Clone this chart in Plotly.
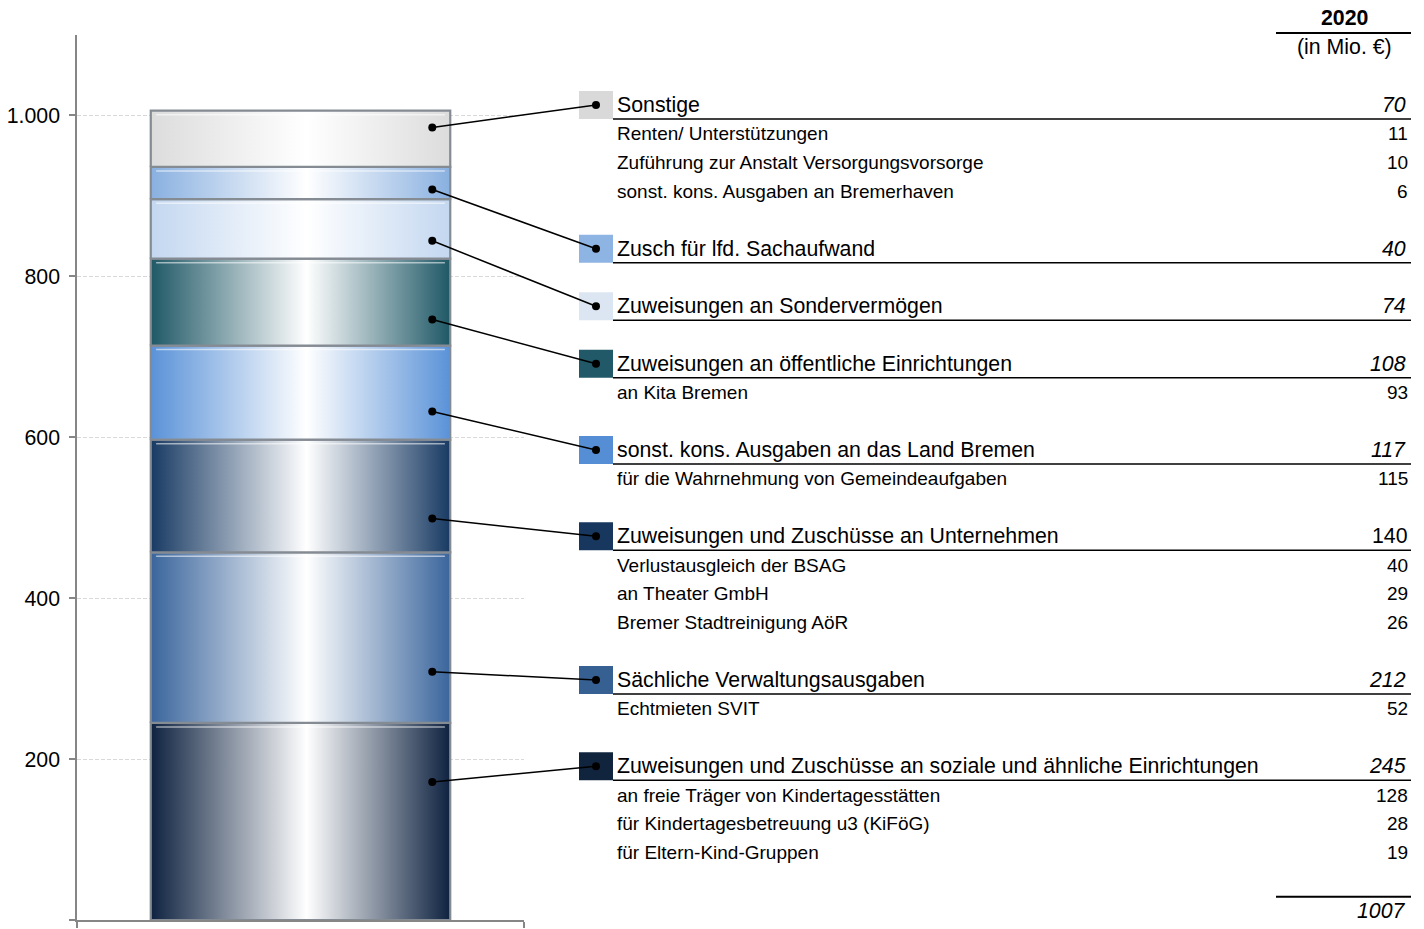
import plotly.graph_objects as go

# ---------------- data ----------------
categories = [
    "Zuweisungen und Zuschüsse an soziale und ähnliche Einrichtungen",
    "Sächliche Verwaltungsausgaben",
    "Zuweisungen und Zuschüsse an Unternehmen",
    "sonst. kons. Ausgaben an das Land Bremen",
    "Zuweisungen an öffentliche Einrichtungen",
    "Zuweisungen an Sondervermögen",
    "Zusch für lfd. Sachaufwand",
    "Sonstige",
]
values = [245, 212, 140, 117, 108, 74, 40, 70]

sub_labels = [
    ["an freie Träger von Kindertagesstätten", "für Kindertagesbetreuung u3 (KiFöG)", "für Eltern-Kind-Gruppen"],
    ["Echtmieten SVIT"],
    ["Verlustausgleich der BSAG", "an Theater GmbH", "Bremer Stadtreinigung AöR"],
    ["für die Wahrnehmung von Gemeindeaufgaben"],
    ["an Kita Bremen"],
    [],
    [],
    ["Renten/ Unterstützungen", "Zuführung zur Anstalt Versorgungsvorsorge", "sonst. kons. Ausgaben an Bremerhaven"],
]
sub_values = [
    [128, 28, 19],
    [52],
    [40, 29, 26],
    [115],
    [93],
    [],
    [],
    [11, 10, 6],
]
total_label = 1007
year_label = "2020"
unit_label = "(in Mio. €)"
y_ticks = [0, 200, 400, 600, 800, 1000]
y_max = 1100

# ---------------- styles ----------------
square_colors = ["#10243e", "#376092", "#17375e", "#558ed5", "#215968", "#dce6f2", "#8eb4e3", "#d9d9d9"]
edge_colors = ["#0e2240", "#3a659c", "#183a63", "#5a92d8", "#1f5866", "#c3d7f0", "#89b0e0", "#dcdcdc"]
upright_value = {"Zuweisungen und Zuschüsse an Unternehmen"}

FONT = "Arial, 'Liberation Sans', sans-serif"
W, H = 1424, 929
X_DOM = [77 / W, 524 / W]
Y_DOM = [1 - 920 / H, 1 - 35 / H]
BAR_X, BAR_W = 0.5, 0.67
MAIN_FS, SUB_FS = 21.3, 19
ROW_H = 28.75          # px per text line
FIRST_ROW = 105        # px of first legend row
SQ_X0, SQ_X1 = 579, 613
TXT_X = 615
VAL_X = 1410
LINE_X1 = 1411
TOT_X0 = 1276


def px_x(p):
    return p / W


def px_y(p):
    return 1 - p / H


def data_to_paper_x(x):
    return X_DOM[0] + x * (X_DOM[1] - X_DOM[0])


def data_to_paper_y(v):
    return Y_DOM[0] + v / y_max * (Y_DOM[1] - Y_DOM[0])


fig = go.Figure()

# stacked bar (base layer)
cum = 0
bases = []
for cat, v, c in zip(categories, values, square_colors):
    bases.append(cum)
    fig.add_trace(go.Bar(x=[BAR_X], y=[v], base=[cum], width=BAR_W, name=cat,
                         marker=dict(color=c, line=dict(width=0)), hoverinfo="skip"))
    cum += v

# gradient overlay for the shaded-cylinder look
x0, x1 = BAR_X - BAR_W / 2, BAR_X + BAR_W / 2
units_per_px = y_max / ((Y_DOM[1] - Y_DOM[0]) * H)
for cat, v, b, ec in zip(categories, values, bases, edge_colors):
    fig.add_trace(go.Scatter(
        x=[x0, x1, x1, x0, x0], y=[b, b, b + v, b + v, b],
        mode="lines", fill="toself",
        fillgradient=dict(type="horizontal",
                          colorscale=[[0, ec], [0.52, "#ffffff"], [1, ec]]),
        line=dict(color="#858b93", width=2.2),
        hoverinfo="skip", showlegend=False))
    # bevel highlight near top of each segment
    hy = b + v - 4 * units_per_px
    fig.add_trace(go.Scatter(
        x=[x0 + 0.012, x1 - 0.012], y=[hy, hy], mode="lines",
        line=dict(color="rgba(255,255,255,0.55)", width=1.5),
        hoverinfo="skip", showlegend=False))

shapes = []
annotations = []

# header
annotations.append(dict(x=px_x(1344), y=px_y(18), xref="paper", yref="paper", text=f"<b>{year_label}</b>",
                        showarrow=False, xanchor="center", yanchor="middle",
                        font=dict(family=FONT, size=MAIN_FS, color="black")))
shapes.append(dict(type="line", xref="paper", yref="paper", x0=px_x(TOT_X0), x1=px_x(LINE_X1),
                   y0=px_y(33), y1=px_y(33), line=dict(color="black", width=2)))
annotations.append(dict(x=px_x(1344), y=px_y(47), xref="paper", yref="paper", text=unit_label,
                        showarrow=False, xanchor="center", yanchor="middle",
                        font=dict(family=FONT, size=MAIN_FS, color="black")))

# legend table (top segment first)
row = 0
n = len(categories)
for i in range(n - 1, -1, -1):
    cat, v, b = categories[i], values[i], bases[i]
    ry = FIRST_ROW + row * ROW_H
    # colour square
    shapes.append(dict(type="rect", xref="paper", yref="paper", x0=px_x(SQ_X0), x1=px_x(SQ_X1),
                       y0=px_y(ry + 14), y1=px_y(ry - 14), fillcolor=square_colors[i], line=dict(width=0),
                       layer="below"))
    # underline
    shapes.append(dict(type="line", xref="paper", yref="paper", x0=px_x(SQ_X1), x1=px_x(LINE_X1),
                       y0=px_y(ry + 14), y1=px_y(ry + 14), line=dict(color="black", width=1.5)))
    annotations.append(dict(x=px_x(TXT_X), y=px_y(ry), xref="paper", yref="paper", text=cat,
                            showarrow=False, xanchor="left", yanchor="middle",
                            font=dict(family=FONT, size=MAIN_FS, color="black")))
    vtxt = str(v) if cat in upright_value else f"<i>{v}</i>"
    annotations.append(dict(x=px_x(VAL_X - (0 if cat in upright_value else 2)), y=px_y(ry),
                            xref="paper", yref="paper", text=vtxt,
                            showarrow=False, xanchor="right", yanchor="middle",
                            font=dict(family=FONT, size=MAIN_FS, color="black")))
    # connector: dot inside segment, near the row height but kept inside the segment
    row_paper = px_y(ry)
    row_data = (row_paper - Y_DOM[0]) / (Y_DOM[1] - Y_DOM[0]) * y_max
    lo, hi = b + 0.3 * v, b + 0.7 * v
    dot_v = min(max(row_data, lo), hi)
    bx = data_to_paper_x(BAR_X + BAR_W * 0.44)
    by = data_to_paper_y(dot_v)
    sx, sy = px_x((SQ_X0 + SQ_X1) / 2), row_paper
    shapes.append(dict(type="line", xref="paper", yref="paper", x0=bx, y0=by, x1=sx, y1=sy,
                       line=dict(color="black", width=1.5)))
    for cx, cy in ((bx, by), (sx, sy)):
        shapes.append(dict(type="circle", xref="paper", yref="paper", xsizemode="pixel", ysizemode="pixel",
                           xanchor=cx, yanchor=cy, x0=-4, x1=4, y0=-4, y1=4,
                           fillcolor="black", line=dict(color="black", width=0)))
    row += 1
    for sl, sv in zip(sub_labels[i], sub_values[i]):
        sy_px = FIRST_ROW + row * ROW_H
        annotations.append(dict(x=px_x(TXT_X), y=px_y(sy_px), xref="paper", yref="paper", text=sl,
                                showarrow=False, xanchor="left", yanchor="middle",
                                font=dict(family=FONT, size=SUB_FS, color="black")))
        annotations.append(dict(x=px_x(VAL_X), y=px_y(sy_px), xref="paper", yref="paper", text=str(sv),
                                showarrow=False, xanchor="right", yanchor="middle",
                                font=dict(family=FONT, size=SUB_FS, color="black")))
        row += 1
    row += 1  # blank line between groups

# total
line_y = FIRST_ROW + (row - 0.5) * ROW_H + 1
text_y = FIRST_ROW + row * ROW_H + 1
shapes.append(dict(type="line", xref="paper", yref="paper", x0=px_x(TOT_X0), x1=px_x(LINE_X1),
                   y0=px_y(line_y), y1=px_y(line_y), line=dict(color="black", width=2)))
annotations.append(dict(x=px_x(VAL_X - 2), y=px_y(text_y), xref="paper", yref="paper",
                        text=f"<i>{total_label}</i>",
                        showarrow=False, xanchor="right", yanchor="middle",
                        font=dict(family=FONT, size=MAIN_FS, color="black")))

fig.update_layout(
    width=W, height=H, margin=dict(l=0, r=0, t=0, b=0),
    paper_bgcolor="white", plot_bgcolor="white",
    barmode="stack", showlegend=False,
    font=dict(family=FONT, color="black"),
    shapes=shapes, annotations=annotations,
    xaxis=dict(domain=X_DOM, range=[0, 1], showgrid=False, zeroline=False,
               showline=True, linecolor="#868686", linewidth=1.5,
               tickvals=[0, 1], ticktext=["", ""], ticks="outside", ticklen=6,
               tickcolor="#868686", tickwidth=1.5, fixedrange=True),
    yaxis=dict(domain=Y_DOM, range=[0, y_max], showgrid=True, gridcolor="#d9d9d9",
               griddash="4px,2px", gridwidth=1, zeroline=False,
               showline=True, linecolor="#868686", linewidth=1.5,
               tickvals=y_ticks, ticktext=[f"{t:,}".replace(",", ".") for t in y_ticks],
               ticks="outside", ticklen=6, tickcolor="#868686", tickwidth=1.5,
               ticklabelstandoff=5,
               tickfont=dict(family=FONT, size=21.3, color="black"), fixedrange=True),
)

fig.write_html("out.html", config={"displayModeBar": False},
               post_script="document.body.style.margin='0px';document.body.style.overflow='hidden';")
